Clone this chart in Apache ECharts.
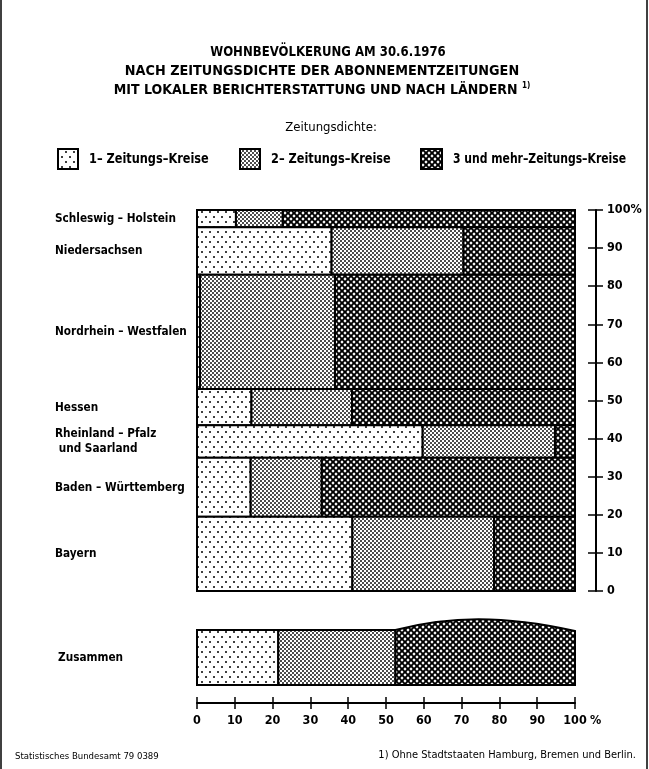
<!DOCTYPE html>
<html>
<head>
<meta charset="utf-8">
<script src="https://cdn.jsdelivr.net/npm/echarts@6/dist/echarts.min.js"></script>
<style>
  html, body { margin: 0; padding: 0; background: #fff; }
  #chart { width: 649px; height: 769px; }
</style>
</head>
<body>
<div id="chart"></div>
<script>
// Länder, top to bottom, with their share of the population (row heights, %)
const states = [
  'Schleswig – Holstein',
  'Niedersachsen',
  'Nordrhein – Westfalen',
  'Hessen',
  'Rheinland – Pfalz\n und Saarland',
  'Baden – Württemberg',
  'Bayern'
];
const populationShare = [4.5, 12.5, 30, 9.5, 8.5, 15.5, 19.5];

// Share of each Land's population by newspaper density (row widths, %)
const share1 = [10.3, 35.6, 0.8, 14.4, 59.7, 14.2, 41.1];
const share2 = [12.4, 34.9, 35.7, 26.6, 35.0, 18.8, 37.5];
const share3 = [77.3, 29.5, 63.5, 59.0, 5.3, 67.0, 21.4];

// All Länder together
const totalLabel = 'Zusammen';
const totalShares = [21.5, 31.0, 47.5];

const categories = ['1– Zeitungs–Kreise', '2– Zeitungs–Kreise', '3 und mehr–Zeitungs–Kreise'];
const percentTicks = [0, 10, 20, 30, 40, 50, 60, 70, 80, 90, 100];

const FONT = '"Liberation Sans Narrow","DejaVu Sans Condensed","Liberation Sans",Arial,sans-serif';

// ---- hatch patterns ----
function tile(w, h, draw) {
  const c = document.createElement('canvas');
  c.width = w; c.height = h;
  draw(c.getContext('2d'), w, h);
  return c;
}
function dot(g, x, y, r) { g.beginPath(); g.arc(x, y, r, 0, Math.PI * 2); g.fill(); }
function diamond(g, x, y, r) {
  g.beginPath(); g.moveTo(x, y - r); g.lineTo(x + r, y); g.lineTo(x, y + r); g.lineTo(x - r, y); g.closePath(); g.fill();
}
const tiles = [
  // sparse staggered dots
  tile(8, 10, (g, w, h) => {
    g.fillStyle = '#fff'; g.fillRect(0, 0, w, h);
    g.fillStyle = '#000'; dot(g, 2, 2, 1.0); dot(g, 6, 7, 1.0);
  }),
  // dense fine dots
  tile(4, 4, (g, w, h) => {
    g.fillStyle = '#fff'; g.fillRect(0, 0, w, h);
    g.fillStyle = '#000'; dot(g, 1, 1, 0.95); dot(g, 3, 3, 0.95);
  }),
  // dark cross-hatch with white diamonds
  tile(6, 6, (g, w, h) => {
    g.fillStyle = '#000'; g.fillRect(0, 0, w, h);
    g.fillStyle = '#fff';
    const r = 1.65;
    diamond(g, 3, 3, r);
    diamond(g, 0, 0, r); diamond(g, 6, 0, r); diamond(g, 0, 6, r); diamond(g, 6, 6, r);
  })
];
const fills = tiles.map(t => ({ image: t, repeat: 'repeat' }));

// ---- mosaic data: [x0, x1, yBottom, yTop, category] ----
const mosaicData = [];
const labelData = [];
let rowTop = 100;
states.forEach((name, i) => {
  const rowBottom = rowTop - populationShare[i];
  const parts = [share1[i], share2[i], share3[i]];
  let x = 0;
  parts.forEach((p, c) => {
    mosaicData.push([x, x + p, rowBottom, rowTop, c]);
    x += p;
  });
  labelData.push([(rowTop + rowBottom) / 2, i]);
  rowTop = rowBottom;
});
const totalData = [];
let tx = 0;
totalShares.forEach((p, c) => { totalData.push([tx, tx + p, c]); tx += p; });

const chart = echarts.init(document.getElementById('chart'), null, { renderer: 'canvas' });

const axisText = { color: '#000', fontFamily: FONT, fontSize: 12.5, fontWeight: 'bold' };

// condensed text helper for the free-standing labels
function label(x, y, text, font, align, sx) {
  return {
    type: 'text', x, y, scaleX: sx,
    style: { text, font: font + ' ' + FONT, fill: '#000', align, verticalAlign: 'middle' }
  };
}

chart.setOption({
  backgroundColor: '#fff',
  animation: false,
  grid: [
    { left: 197, top: 210, width: 378, height: 381 },
    { left: 197, top: 630, width: 378, height: 55 }
  ],
  xAxis: [
    { gridIndex: 0, type: 'value', min: 0, max: 100, show: false },
    {
      gridIndex: 1, type: 'value', min: 0, max: 100, interval: 10, position: 'bottom', offset: 18,
      axisLine: { show: true, onZero: false, lineStyle: { color: '#000', width: 2 } },
      axisTick: { show: true, length: 6, lineStyle: { color: '#000', width: 1.5 } },
      splitLine: { show: false },
      axisLabel: {
        margin: 11, ...axisText,
        formatter: v => v === 100 ? '{pad|}{n|100}{p| %}' : String(v),
        rich: {
          pad: { width: 14 },
          n: { ...axisText },
          p: { ...axisText, width: 14 }
        }
      }
    },
    {
      gridIndex: 1, type: 'value', min: 0, max: 100, interval: 10, position: 'bottom', offset: 18,
      axisLine: { show: false, onZero: false },
      axisTick: { show: true, inside: true, length: 6, lineStyle: { color: '#000', width: 1.5 } },
      splitLine: { show: false }, axisLabel: { show: false }
    }
  ],
  yAxis: [
    {
      gridIndex: 0, type: 'value', min: 0, max: 100, interval: 10, position: 'right', offset: 21,
      axisLine: { show: true, onZero: false, lineStyle: { color: '#000', width: 2 } },
      axisTick: { show: true, length: 7, lineStyle: { color: '#000', width: 1.5 } },
      splitLine: { show: false },
      axisLabel: { margin: 11, ...axisText, formatter: v => v === 100 ? '100%' : String(v) }
    },
    {
      gridIndex: 0, type: 'value', min: 0, max: 100, interval: 10, position: 'right', offset: 21,
      axisLine: { show: false, onZero: false },
      axisTick: { show: true, inside: true, length: 8, lineStyle: { color: '#000', width: 1.5 } },
      splitLine: { show: false }, axisLabel: { show: false }
    },
    { gridIndex: 1, type: 'value', min: 0, max: 1, show: false }
  ],
  series: [
    {
      type: 'custom', name: 'Länder', xAxisIndex: 0, yAxisIndex: 0, data: mosaicData,
      renderItem(params, api) {
        const p0 = api.coord([api.value(0), api.value(3)]);
        const p1 = api.coord([api.value(1), api.value(2)]);
        return {
          type: 'rect',
          shape: { x: p0[0], y: p0[1], width: p1[0] - p0[0], height: p1[1] - p0[1] },
          style: { fill: fills[api.value(4)], stroke: '#000', lineWidth: 2 }
        };
      }
    },
    {
      type: 'custom', name: 'Namen', xAxisIndex: 0, yAxisIndex: 0, data: labelData,
      renderItem(params, api) {
        const y = api.coord([0, api.value(0)])[1];
        return {
          type: 'text', x: 55, y: y, scaleX: 0.9,
          style: {
            text: states[api.value(1)], fill: '#000', font: 'bold 13px ' + FONT,
            verticalAlign: 'middle', align: 'left', lineHeight: 15
          }
        };
      }
    },
    {
      type: 'custom', name: totalLabel, xAxisIndex: 1, yAxisIndex: 2, data: totalData,
      renderItem(params, api) {
        const a = api.coord([api.value(0), 1]);
        const b = api.coord([api.value(1), 0]);
        const c = api.value(2);
        const children = [];
        if (c === 2) {
          // hand-drawn swelling top edge on the last block
          const w = b[0] - a[0];
          children.push({
            type: 'path',
            shape: {
              pathData: `M${a[0]} ${b[1]} L${a[0]} ${a[1]} C${a[0] + w * 0.3} ${a[1] - 14} ${a[0] + w * 0.6} ${a[1] - 15} ${b[0]} ${a[1] + 1} L${b[0]} ${b[1]} Z`
            },
            style: { fill: fills[c], stroke: '#000', lineWidth: 2 }
          });
        } else {
          children.push({
            type: 'rect',
            shape: { x: a[0], y: a[1], width: b[0] - a[0], height: b[1] - a[1] },
            style: { fill: fills[c], stroke: '#000', lineWidth: 2 }
          });
        }
        if (params.dataIndex === 0) {
          children.push({
            type: 'text', x: 58, y: (a[1] + b[1]) / 2, scaleX: 0.9,
            style: { text: totalLabel, fill: '#000', font: 'bold 13px ' + FONT, verticalAlign: 'middle', align: 'left' }
          });
        }
        return { type: 'group', children };
      }
    }
  ],
  graphic: [
    { type: 'line', shape: { x1: 1, y1: 0, x2: 1, y2: 769 }, style: { stroke: '#000', lineWidth: 1.5 } },
    { type: 'line', shape: { x1: 647, y1: 0, x2: 647, y2: 769 }, style: { stroke: '#000', lineWidth: 1.5 } },
    label(328, 52, 'WOHNBEVÖLKERUNG AM 30.6.1976', 'bold 14px', 'center', 0.93),
    label(322, 71, 'NACH ZEITUNGSDICHTE DER ABONNEMENTZEITUNGEN', 'bold 14px', 'center', 1.02),
    {
      type: 'text', x: 322, y: 90,
      style: {
        text: '{m|MIT LOKALER BERICHTERSTATTUNG UND NACH LÄNDERN }{s|1)}',
        rich: {
          m: { font: 'bold 14px ' + FONT, fill: '#000' },
          s: { font: 'bold 8px ' + FONT, fill: '#000', padding: [0, 0, 8, 0] }
        },
        align: 'center', verticalAlign: 'middle'
      }
    },
    label(331, 128, 'Zeitungsdichte:', '13px', 'center', 1),
    { type: 'rect', shape: { x: 58, y: 149, width: 20, height: 20 }, style: { fill: fills[0], stroke: '#000', lineWidth: 2 } },
    label(89, 159, categories[0], 'bold 14px', 'left', 0.9),
    { type: 'rect', shape: { x: 240, y: 149, width: 20, height: 20 }, style: { fill: fills[1], stroke: '#000', lineWidth: 2 } },
    label(271, 159, categories[1], 'bold 14px', 'left', 0.9),
    { type: 'rect', shape: { x: 421, y: 149, width: 21, height: 20 }, style: { fill: fills[2], stroke: '#000', lineWidth: 2 } },
    label(453, 159, categories[2], 'bold 14px', 'left', 0.86),
    label(15, 757, 'Statistisches Bundesamt 79 0389', '9.5px', 'left', 1),
    label(636, 755, '1) Ohne Stadtstaaten Hamburg, Bremen und Berlin.', '11px', 'right', 1)
  ]
});
</script>
</body>
</html>
